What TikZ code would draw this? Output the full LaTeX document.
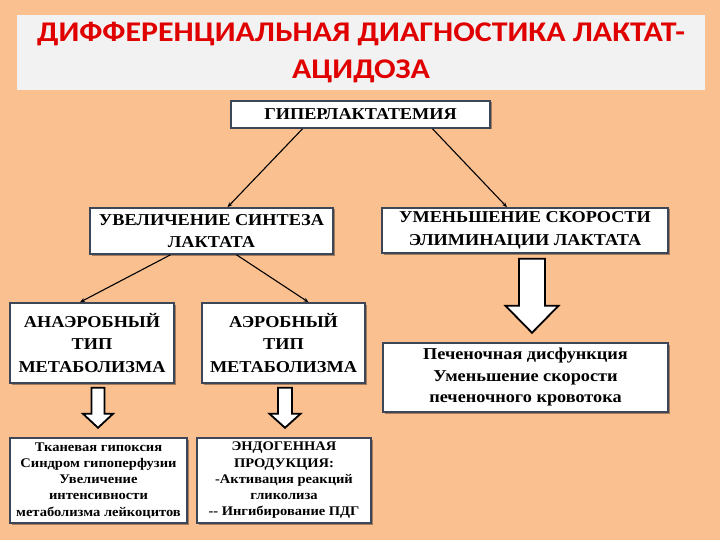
\documentclass[tikz,border=0pt]{standalone}
\usepackage{fontspec}
\setmainfont{Liberation Serif}[FakeStretch=1.1]
\newfontfamily\titlefont{Carlito}[FakeStretch=1.12]
\usetikzlibrary{arrows.meta, positioning, shadows}
\definecolor{peach}{HTML}{FAC090}
\definecolor{band}{HTML}{F2F2F2}
\definecolor{titlered}{HTML}{E00000}
\definecolor{frame}{HTML}{3C4656}
\tikzset{
  box/.style    ={draw=frame, line width=1.6pt, fill=white, align=center,
                  inner sep=2pt,
                  drop shadow={shadow xshift=1.5pt, shadow yshift=-1.5pt,
                               opacity=0.35, fill=black}},
  capbox/.style ={box, font=\bfseries\fontsize{16.6}{22.5}\selectfont},
  txtbox/.style ={box, font=\bfseries\fontsize{16.6}{21.5}\selectfont},
  smallbox/.style={box, font=\bfseries\fontsize{13.2}{16.25}\selectfont},
  link/.style   ={-{Stealth[length=5pt,width=4pt]}, line width=1.1pt, draw=black},
  fatarrow/.style={draw=black, fill=white, line width=1.8pt, line join=miter}
}
\begin{document}
\begin{tikzpicture}[x=1pt, y=-1pt]

  \fill[peach] (0,0) rectangle (720,540);
  \useasboundingbox (0,0) rectangle (720,540);

  \node[fill=band, minimum width=688pt, minimum height=75pt, inner sep=0pt,
        align=center, text=titlered,
        font=\titlefont\bfseries\fontsize{28.5}{37}\selectfont]
        (title) at (361,52.5) {ДИФФЕРЕНЦИАЛЬНАЯ ДИАГНОСТИКА ЛАКТАТ-\\АЦИДОЗА};

  \node[capbox, minimum width=259pt, minimum height=27pt] (hyper) at (360.5,114.5)
        {ГИПЕРЛАКТАТЕМИЯ};

  \node[capbox, minimum width=243pt, minimum height=46pt] (uvel) at (211.5,231)
        {УВЕЛИЧЕНИЕ СИНТЕЗА\\ЛАКТАТА};
  \node[capbox, minimum width=286pt, minimum height=45pt] (umen) at (525,230.5)
        {УМЕНЬШЕНИЕ СКОРОСТИ\\ЭЛИМИНАЦИИ ЛАКТАТА};

  \node[capbox, minimum width=164pt, minimum height=80pt] (anaer) at (92,343)
        {АНАЭРОБНЫЙ\\ТИП\\МЕТАБОЛИЗМА};
  \node[capbox, minimum width=163pt, minimum height=80pt] (aer) at (283.5,343)
        {АЭРОБНЫЙ\\ТИП\\МЕТАБОЛИЗМА};
  \node[txtbox, minimum width=285pt, minimum height=69pt] (liver) at (525.5,377.5)
        {Печеночная дисфункция\\Уменьшение скорости\\печеночного кровотока};

  \node[smallbox, minimum width=177pt, minimum height=85pt] (hypox) at (98.5,480.5)
        {Тканевая гипоксия\\Синдром гипоперфузии\\Увеличение\\интенсивности\\метаболизма лейкоцитов};
  \node[smallbox, minimum width=174pt, minimum height=85pt] (endo) at (284,480.5)
        {ЭНДОГЕННАЯ\\ПРОДУКЦИЯ:\\-Активация реакций\\гликолиза\\{-}{-} Ингибирование ПДГ};

  \draw[link] ([xshift=-58pt]hyper.south) -- ([xshift=16pt]uvel.north);
  \draw[link] ([xshift=72pt]hyper.south)  -- ([xshift=-18pt]umen.north);
  \draw[link] ([xshift=-41pt]uvel.south)  -- ([xshift=-12pt]anaer.north);
  \draw[link] ([xshift=25pt]uvel.south)   -- ([xshift=25pt]aer.north);

  % block arrows
  \coordinate (a1) at ([xshift=7pt, yshift=-5pt]umen.south);
  \draw[fatarrow] (a1) ++(-13,0) -- ++(26,0) -- ++(0,47) -- ++(13.5,0)
        -- ++(-26.5,27) -- ++(-26.5,-27) -- ++(13.5,0) -- cycle;
  \coordinate (a2) at ([xshift=6pt, yshift=-4pt]anaer.south);
  \draw[fatarrow] (a2) ++(-6.5,0) -- ++(13,0) -- ++(0,26) -- ++(8.5,0)
        -- ++(-15,14) -- ++(-15,-14) -- ++(8.5,0) -- cycle;
  \coordinate (a3) at ([xshift=1.5pt, yshift=-4pt]aer.south);
  \draw[fatarrow] (a3) ++(-7,0) -- ++(14,0) -- ++(0,26) -- ++(8.5,0)
        -- ++(-15.5,14) -- ++(-15.5,-14) -- ++(8.5,0) -- cycle;

\end{tikzpicture}
\end{document}
